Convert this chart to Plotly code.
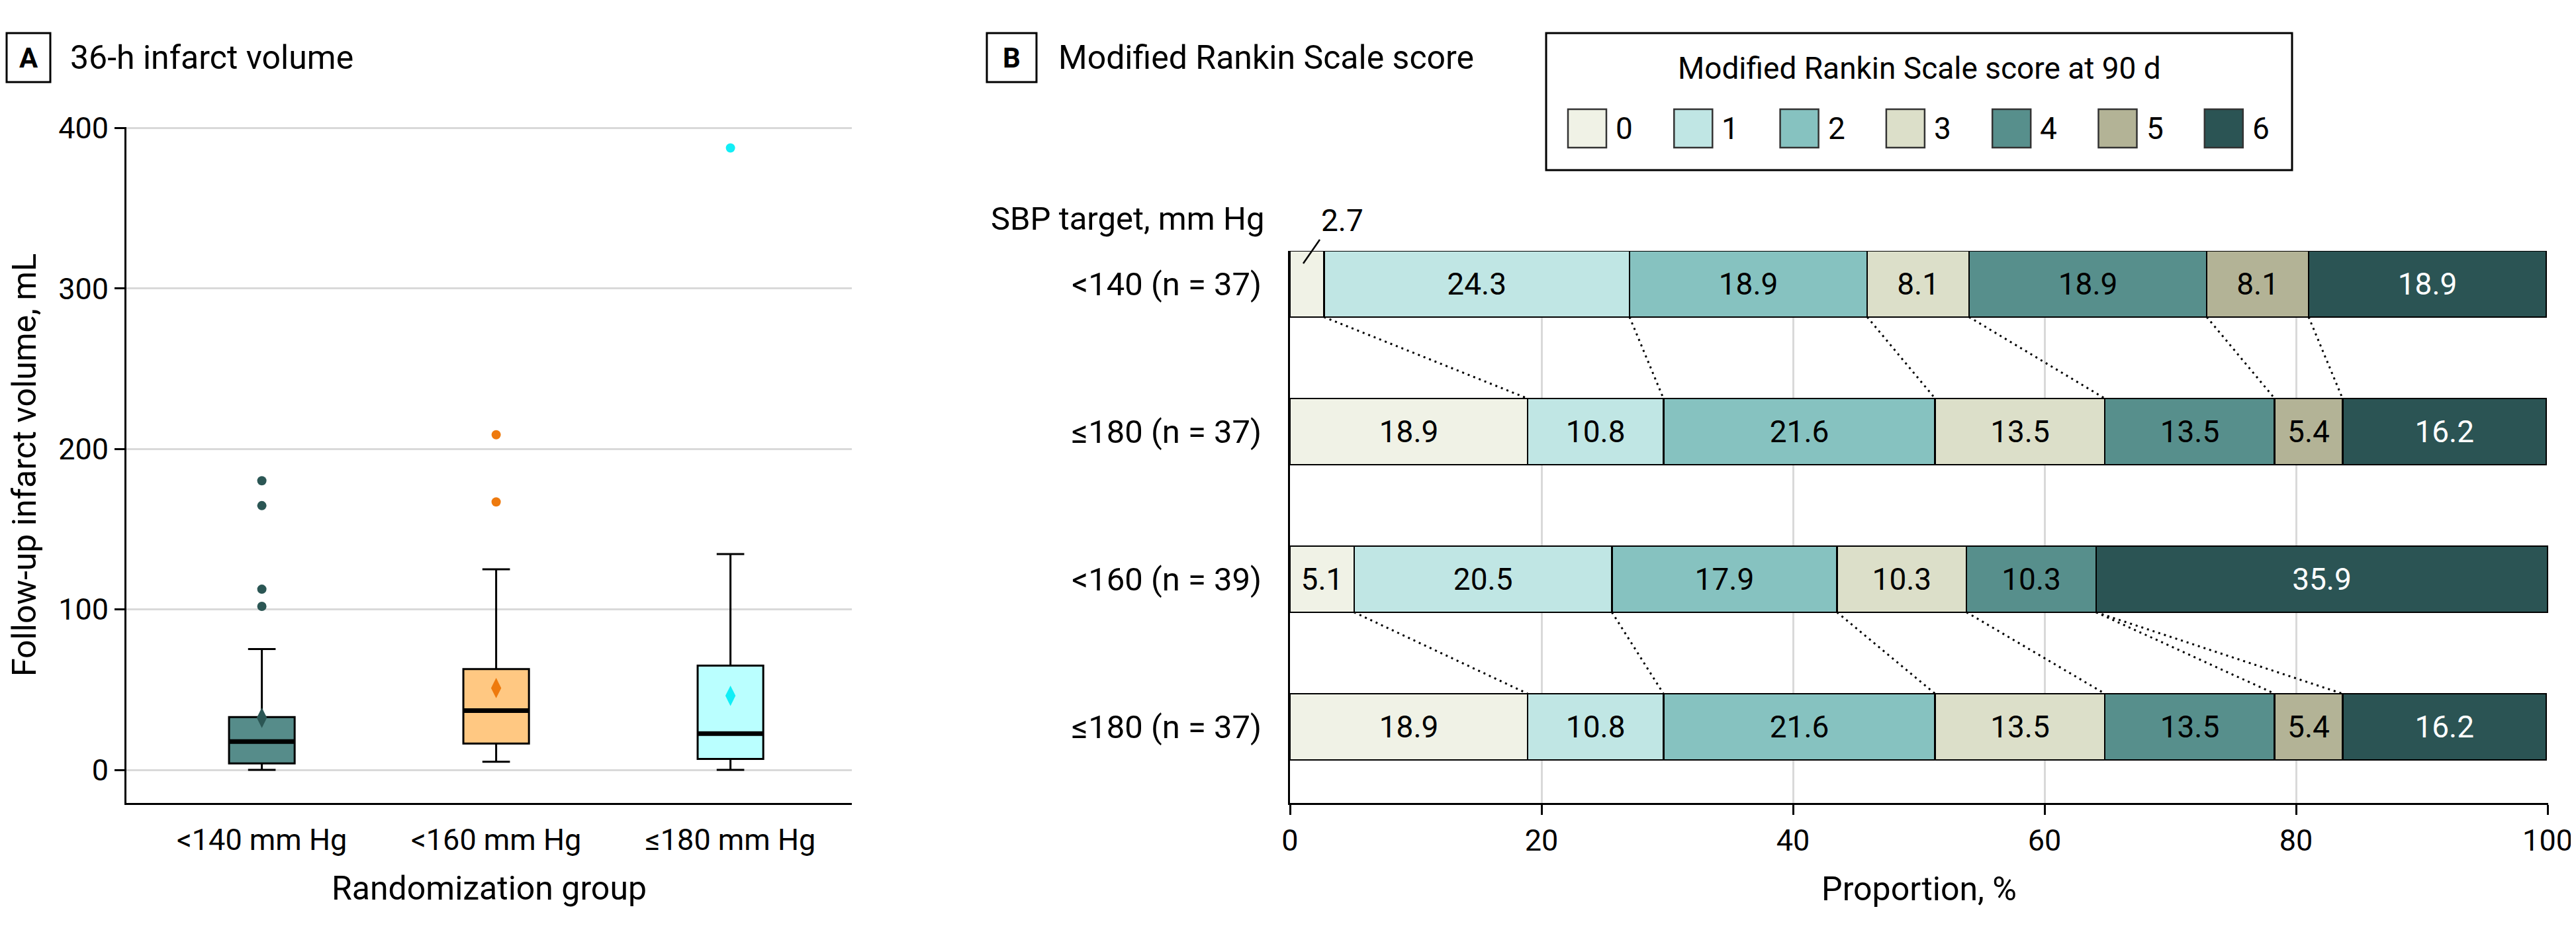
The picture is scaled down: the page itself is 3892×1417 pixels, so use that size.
import plotly.graph_objects as go

# The page body has an 8 px default margin, so the figure is drawn 8 px in and
# sized so that it still ends inside the window.
W, H = 3892, 1417
PAGE_MARGIN = 8
FW, FH = W - PAGE_MARGIN - 2, H - 2 * PAGE_MARGIN

FONT = "Roboto, Liberation Sans, Noto Sans, sans-serif"
FS_TICK = 45
FS_BAR = 46
FS_LEG = 46
FS_ROW = 49
FS_TITLE = 50

# ---------------- Panel A data: 36-h infarct volume (mL) ----------------
groups = ["<140 mm Hg", "<160 mm Hg", "≤180 mm Hg"]
q1 = [4.1, 16.4, 6.8]
median = [17.7, 37.0, 22.6]
q3 = [32.9, 62.8, 65.0]
lowerfence = [0.0, 5.1, 0.0]
upperfence = [75.3, 125.0, 134.5]
means = [32.5, 51.0, 46.2]
outliers = [[180.2, 164.7, 112.6, 101.9], [208.9, 167.0], [387.6]]
a_ticks = [0, 100, 200, 300, 400]
box_fill = ["#568C8A", "#FFC882", "#BAFFFF"]
point_color = ["#2B5654", "#EE7A0E", "#12EEF6"]

# ---------------- Panel B data: mRS at 90 d (%) ----------------
rows = ["<140 (n = 37)", "≤180 (n = 37)", "<160 (n = 39)", "≤180 (n = 37)"]
scores = ["0", "1", "2", "3", "4", "5", "6"]
row_pct = [
    [2.7, 24.3, 18.9, 8.1, 18.9, 8.1, 18.9],
    [18.9, 10.8, 21.6, 13.5, 13.5, 5.4, 16.2],
    [5.1, 20.5, 17.9, 10.3, 10.3, 0.0, 35.9],
    [18.9, 10.8, 21.6, 13.5, 13.5, 5.4, 16.2],
]
connect_pairs = [(0, 1), (2, 3)]
b_ticks = [0, 20, 40, 60, 80, 100]
score_colors = ["#F0F2E6", "#C0E6E4", "#86C2C0", "#DCDFC9", "#578F8C", "#B3B396", "#2B5454"]
score_text = ["black", "black", "black", "black", "black", "black", "white"]

BOX_W = 0.28
BAR_W = 0.448


def px(x):
    """screen pixel x -> paper fraction"""
    return (x - PAGE_MARGIN) / FW


def py(y):
    """screen pixel y (from top) -> paper fraction"""
    return 1 - (y - PAGE_MARGIN) / FH


fig = go.Figure()

# ---- Panel A traces ----
for i, g in enumerate(groups):
    fig.add_trace(go.Box(
        x=[i], q1=[q1[i]], median=[median[i]], q3=[q3[i]],
        lowerfence=[lowerfence[i]], upperfence=[upperfence[i]],
        width=BOX_W, whiskerwidth=0.42, fillcolor=box_fill[i],
        line=dict(color="black", width=3), boxpoints=False,
        xaxis="x", yaxis="y", name=g, hoverinfo="skip"))
    fig.add_trace(go.Scatter(
        x=[i - BOX_W / 2, i + BOX_W / 2], y=[median[i], median[i]], mode="lines",
        line=dict(color="black", width=7), xaxis="x", yaxis="y", hoverinfo="skip"))
    fig.add_trace(go.Scatter(
        x=[i], y=[means[i]], mode="markers",
        marker=dict(symbol="diamond-tall", size=22, color=point_color[i]),
        xaxis="x", yaxis="y"))
    fig.add_trace(go.Scatter(
        x=[i] * len(outliers[i]), y=outliers[i], mode="markers",
        marker=dict(symbol="circle", size=14, color=point_color[i]),
        xaxis="x", yaxis="y"))

# ---- Panel B traces ----
ypos = list(range(len(rows)))
for s, sc in enumerate(scores):
    vals = [row_pct[r][s] for r in ypos]
    txt = [f"{v:.1f}" if v >= 4 else "" for v in vals]
    fig.add_trace(go.Bar(
        x=vals, y=ypos, orientation="h", width=BAR_W, name=sc,
        marker=dict(color=score_colors[s], line=dict(color="black", width=2.5)),
        text=txt, textposition="inside", insidetextanchor="middle", textangle=0,
        constraintext="none",
        textfont=dict(color=score_text[s], size=FS_BAR, family=FONT),
        xaxis="x2", yaxis="y2", hoverinfo="skip"))

cum = []
for r in ypos:
    c, acc = [], 0.0
    for v in row_pct[r]:
        acc += v
        c.append(acc)
    cum.append(c)

lx, ly = [], []
for a, b in connect_pairs:
    for k in range(len(scores) - 1):
        lx += [cum[a][k], cum[b][k], None]
        ly += [a + BAR_W / 2, b - BAR_W / 2, None]
fig.add_trace(go.Scatter(x=lx, y=ly, mode="lines",
                         line=dict(color="black", width=3, dash="3px,6px"),
                         xaxis="x2", yaxis="y2", hoverinfo="skip"))

# small-segment label outside the bar, with a leader line
for r in ypos:
    for s in range(len(scores)):
        v = row_pct[r][s]
        if 0 < v < 4:
            fig.add_annotation(x=cum[r][s] - v * 0.61, y=r - BAR_W * 0.31,
                               xref="x2", yref="y2", text=f"{v:.1f}",
                               showarrow=True, arrowhead=0, arrowwidth=2.5,
                               arrowcolor="black", ax=25, ay=-36, standoff=0,
                               xanchor="left", yanchor="bottom",
                               font=dict(size=FS_BAR, color="black"))

gridc = "#D9D9D9"
fig.update_layout(
    width=FW, height=FH, margin=dict(l=0, r=0, t=0, b=0),
    plot_bgcolor="white", paper_bgcolor="white", showlegend=False,
    font=dict(family=FONT, size=FS_TICK, color="black"),
    xaxis=dict(domain=[px(191), px(1287)], range=[-0.578, 2.518], automargin=False,
               tickvals=list(range(len(groups))), ticktext=groups,
               showline=True, linecolor="black", linewidth=3, showgrid=False,
               zeroline=False, ticks="", ticklabelstandoff=14,
               title=dict(text="Randomization group", standoff=30,
                          font=dict(size=FS_TITLE)), anchor="y"),
    yaxis=dict(domain=[py(1213), py(192)], range=[-20.6, 400.6], automargin=False,
               tickvals=a_ticks, showgrid=True, gridcolor=gridc, gridwidth=3,
               zeroline=False, showline=True, linecolor="black", linewidth=3,
               ticks="outside", ticklen=15, tickwidth=3, tickcolor="black",
               title=dict(text="Follow-up infarct volume, mL", standoff=30,
                          font=dict(size=FS_TITLE)),
               anchor="x"),
    xaxis2=dict(domain=[px(1949), px(3850)], range=[0, 100.05], tickvals=b_ticks,
                automargin=False, ticklabeloverflow="allow",
                showline=True, linecolor="black", linewidth=3,
                showgrid=True, gridcolor=gridc, gridwidth=3, zeroline=False,
                ticks="outside", ticklen=15, tickwidth=3, tickcolor="black",
                title=dict(text="Proportion, %", standoff=30, font=dict(size=FS_TITLE)),
                anchor="y2"),
    yaxis2=dict(domain=[py(1213), py(379)], range=[3.516, -0.224],
                automargin=False,
                tickvals=ypos, ticktext=rows, showline=True, linecolor="black",
                linewidth=3, ticks="", showgrid=False, zeroline=False,
                tickfont=dict(size=FS_ROW),
                ticklabelstandoff=30, anchor="x2"),
    barmode="stack",
)

# ---- panel headers ----
for letter, bx0, bx1, title, tx in [("A", 10, 76, "36-h infarct volume", 104),
                                    ("B", 1491, 1566, "Modified Rankin Scale score", 1597)]:
    fig.add_shape(type="rect", xref="paper", yref="paper", x0=px(bx0), x1=px(bx1),
                  y0=py(124), y1=py(50), line=dict(color="black", width=3),
                  fillcolor="white")
    fig.add_annotation(xref="paper", yref="paper", x=px((bx0 + bx1) / 2), y=py(87),
                       text=f"<b>{letter}</b>", showarrow=False, xanchor="center",
                       yanchor="middle", font=dict(size=42))
    fig.add_annotation(xref="paper", yref="paper", x=px(tx), y=py(87), text=title,
                       showarrow=False, xanchor="left", yanchor="middle",
                       font=dict(size=FS_TITLE))

fig.add_annotation(xref="paper", yref="paper", x=px(1495), y=py(330),
                   text="SBP target, mm Hg", showarrow=False, xanchor="left",
                   yanchor="middle", font=dict(size=FS_ROW))

# ---- legend (drawn manually to get large swatches) ----
LG_X0, LG_X1, LG_Y0, LG_Y1 = 2336, 3463, 50, 257
fig.add_shape(type="rect", xref="paper", yref="paper", x0=px(LG_X0), x1=px(LG_X1),
              y0=py(LG_Y1), y1=py(LG_Y0), line=dict(color="black", width=3))
fig.add_annotation(xref="paper", yref="paper", x=px((LG_X0 + LG_X1) / 2), y=py(103),
                   text="Modified Rankin Scale score at 90 d", showarrow=False,
                   xanchor="center", yanchor="middle", font=dict(size=FS_LEG))
SW, STEP, SX0, SY0 = 58, 160.3, 2369, 165
for s, sc in enumerate(scores):
    x0 = SX0 + s * STEP
    fig.add_shape(type="rect", xref="paper", yref="paper", x0=px(x0), x1=px(x0 + SW),
                  y0=py(SY0 + SW), y1=py(SY0), fillcolor=score_colors[s],
                  line=dict(color="#333333", width=2.5))
    fig.add_annotation(xref="paper", yref="paper", x=px(x0 + SW + 12), y=py(SY0 + SW / 2),
                       text=sc, showarrow=False, xanchor="left", yanchor="middle",
                       font=dict(size=FS_LEG))

fig.write_html("out.html")
